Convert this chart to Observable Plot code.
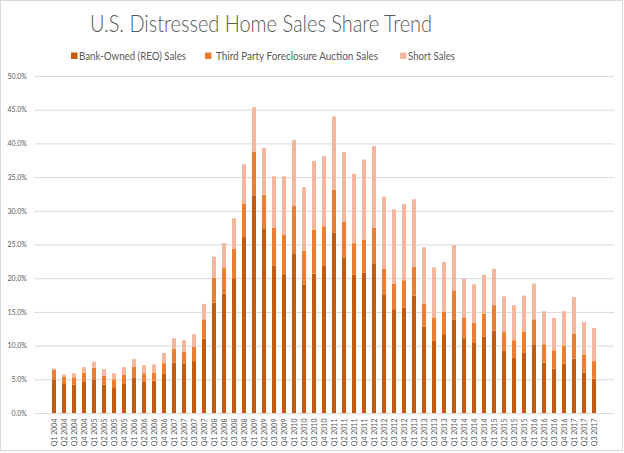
<!DOCTYPE html>
<html><head><meta charset="utf-8">
<script src="https://cdn.jsdelivr.net/npm/d3@7"></script>
<script src="https://cdn.jsdelivr.net/npm/@observablehq/plot@0.6"></script>
<style>
body{margin:0;background:#fff;}
#wrap{position:relative;width:624px;height:453px;overflow:hidden;background:#fff;}
#frame{position:absolute;left:0;top:0;width:623px;height:451px;border:1px solid #d9d9d9;box-sizing:border-box;}
#head{position:absolute;left:0;top:0;}
#chart{position:absolute;left:0;top:65px;}
</style></head><body>
<div id="wrap"><div id="frame"></div><svg id="head" width="624" height="65"></svg><div id="chart"></div></div>
<script>
const title = "U.S. Distressed Home Sales Share Trend";
const seriesNames = ["Bank-Owned (REO) Sales", "Third Party Foreclosure Auction Sales", "Short Sales"];
const seriesColors = ["#C55A11", "#ED7D31", "#F4B79E"];
const quarters = ["Q1 2004","Q2 2004","Q3 2004","Q4 2004","Q1 2005","Q2 2005","Q3 2005","Q4 2005",
"Q1 2006","Q2 2006","Q3 2006","Q4 2006","Q1 2007","Q2 2007","Q3 2007","Q4 2007",
"Q1 2008","Q2 2008","Q3 2008","Q4 2008","Q1 2009","Q2 2009","Q3 2009","Q4 2009",
"Q1 2010","Q2 2010","Q3 2010","Q4 2010","Q1 2011","Q2 2011","Q3 2011","Q4 2011",
"Q1 2012","Q2 2012","Q3 2012","Q4 2012","Q1 2013","Q2 2013","Q3 2013","Q4 2013",
"Q1 2014","Q2 2014","Q3 2014","Q4 2014","Q1 2015","Q2 2015","Q3 2015","Q4 2015",
"Q1 2016","Q2 2016","Q3 2016","Q4 2016","Q1 2017","Q2 2017","Q3 2017"];
const reo = [5.0,4.3,4.2,4.6,5.0,4.2,3.7,4.3,5.3,4.7, 4.8,5.8,7.5,7.3,7.7,11.0,16.4,17.7,20.0,26.1,
32.3,27.3,21.9,20.6,23.6,19.0,20.7,21.8,26.8,23.1, 20.5,20.8,22.1,17.5,15.4,15.6,17.4,12.8,10.7,11.7,
13.9,11.1,10.5,11.3,12.2,9.3,8.2,9.0,10.2,7.5, 6.6,7.3,8.1,6.0,5.1];
const auction = [1.4,1.1,1.1,1.4,1.7,1.3,1.3,1.4,1.6,1.2, 1.2,1.6,2.0,1.8,2.1,2.9,3.7,3.8,4.4,5.0,
6.5,5.1,5.6,5.9,7.1,5.1,6.5,5.9,6.3,5.3, 4.7,4.9,5.4,3.9,3.8,4.1,4.3,3.4,3.4,3.3,
4.3,3.1,2.9,3.4,3.8,2.7,2.6,3.1,3.7,2.7, 2.7,2.7,3.7,2.7,2.6];
const shortSales = [0.2,0.3,0.6,0.8,0.9,1.0,0.9,1.1,1.1,1.2, 1.2,1.5,1.6,1.7,1.9,2.3,3.1,3.7,4.5,5.8,
6.6,6.9,7.6,8.6,9.8,9.4,10.2,10.4,10.9,10.3, 10.3,11.9,12.1,10.7,11.0,11.3,10.0,8.4,7.5,7.4,
6.7,5.7,5.7,5.8,5.4,5.3,5.2,5.3,5.3,4.9, 4.8,5.1,5.4,4.8,4.9];
const yTicks = [0,5,10,15,20,25,30,35,40,45,50];

const seriesValues = [reo, auction, shortSales];
const data = quarters.flatMap((q, i) => seriesNames.map((s, j) => ({q, series: s, v: seriesValues[j][i]})));

// header: title + legend
const NS = "http://www.w3.org/2000/svg";
const head = document.getElementById("head");
function txt(x, y, s, size, len, anchor, weight) {
  const t = document.createElementNS(NS, "text");
  t.setAttribute("x", x); t.setAttribute("y", y);
  t.setAttribute("font-family", "Lato, 'Open Sans', sans-serif");
  t.setAttribute("font-size", size);
  if (weight) t.setAttribute("font-weight", weight);
  t.setAttribute("fill", "#595959");
  if (anchor) t.setAttribute("text-anchor", anchor);
  t.setAttribute("textLength", len);
  t.setAttribute("lengthAdjust", "spacingAndGlyphs");
  t.textContent = s;
  head.appendChild(t);
}
txt(261, 32, title, 23, 342, "middle", 300);
const legendPos = [{r: 71, t: 79, w: 107}, {r: 205, t: 216, w: 162}, {r: 400, t: 408, w: 47}];
seriesNames.forEach((s, i) => {
  const r = document.createElementNS(NS, "rect");
  r.setAttribute("x", legendPos[i].r); r.setAttribute("y", 52.5);
  r.setAttribute("width", 6.5); r.setAttribute("height", 6.5);
  r.setAttribute("fill", seriesColors[i]);
  head.appendChild(r);
  txt(legendPos[i].t, 60, s, 10.5, legendPos[i].w);
});

const chart = Plot.plot({
  width: 624, height: 388,
  marginLeft: 34.4, marginRight: 10, marginTop: 11, marginBottom: 40,
  style: {fontFamily: "Lato, 'Open Sans', sans-serif", fontSize: "7px", color: "#595959", background: "transparent"},
  x: {domain: quarters, paddingInner: 0.62, paddingOuter: 0.31, label: null, tickRotate: -90, tickSize: 0, tickPadding: 5},
  y: {domain: [0, 50], ticks: yTicks, tickFormat: d => d.toFixed(1) + "%", label: null, tickSize: 0, tickPadding: 8},
  color: {domain: seriesNames, range: seriesColors},
  marks: [
    Plot.ruleY(yTicks, {stroke: "#d9d9d9", strokeWidth: 1}),
    Plot.barY(data, {x: "q", y: "v", fill: "series"})
  ]
});
document.getElementById("chart").appendChild(chart);
</script>
</body></html>
